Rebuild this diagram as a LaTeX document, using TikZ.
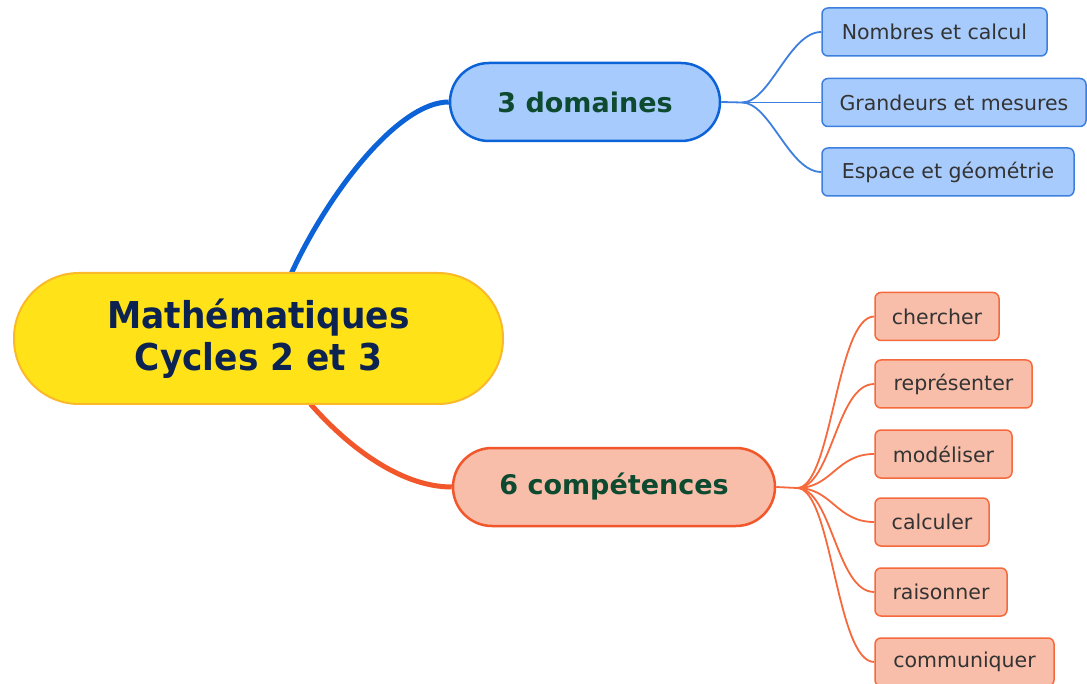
\documentclass[tikz,border=0pt]{standalone}
\usepackage{fontspec}
\setmainfont{DejaVu Sans}
\newfontfamily\titlefont[FakeStretch=0.93]{DejaVu Sans}
\usetikzlibrary{backgrounds}
\definecolor{yelfill}{HTML}{FFE318}
\definecolor{yeldraw}{HTML}{FBB92A}
\definecolor{navy}{HTML}{0C2250}
\definecolor{bluefill}{HTML}{A8CBFD}
\definecolor{bluemain}{HTML}{0C63D8}
\definecolor{blueleaf}{HTML}{3C7FDF}
\definecolor{orfill}{HTML}{F8BEAA}
\definecolor{ormain}{HTML}{F1572A}
\definecolor{orleaf}{HTML}{F6693C}
\definecolor{dkgreen}{HTML}{0D4A30}
\definecolor{leaftext}{HTML}{333333}
\tikzset{
  centralbox/.style={draw=yeldraw, fill=yelfill, line width=2pt, rounded corners=65pt,
    minimum width=489pt, minimum height=131pt, align=center, text=navy,
    font=\titlefont\fontsize{37}{42}\selectfont\bfseries, inner sep=0pt},
  mainbox/.style={line width=2.5pt, rounded corners=39pt, minimum height=78pt,
    text=dkgreen, font=\fontsize{27}{30}\selectfont\bfseries, inner sep=0pt},
  leafbox/.style={line width=1.5pt, rounded corners=6pt, minimum height=48pt,
    text=leaftext, font=\fontsize{20.5}{24}\selectfont, inner sep=0pt},
  blueleafbox/.style={leafbox, draw=blueleaf, fill=bluefill},
  orleafbox/.style={leafbox, draw=orleaf, fill=orfill},
  bluethin/.style={draw=blueleaf, line width=1.8pt},
  orthin/.style={draw=orleaf, line width=1.8pt},
}
\begin{document}
\begin{tikzpicture}[x=1pt,y=-1pt]
\useasboundingbox (0,0) rectangle (1087,684);
\node[centralbox] (central) at (258.5,338.5) {Mathématiques\\Cycles 2 et 3};
\node[mainbox, draw=bluemain, fill=bluefill, minimum width=270pt] (dom) at (585,102) {3 domaines};
\node[mainbox, draw=ormain, fill=orfill, minimum width=322pt] (comp) at (614,487) {6 compétences};

\node[blueleafbox, minimum width=225pt] (n1) at (934.5,32) {Nombres et calcul};
\node[blueleafbox, minimum width=264pt] (n2) at (954,102.5) {Grandeurs et mesures};
\node[blueleafbox, minimum width=252pt] (n3) at (948,172) {Espace et géométrie};

\node[orleafbox, minimum width=124pt] (c1) at (937,316.5) {chercher};
\node[orleafbox, minimum width=157pt] (c2) at (953.5,384) {représenter};
\node[orleafbox, minimum width=137pt] (c3) at (943.5,454) {modéliser};
\node[orleafbox, minimum width=114pt] (c4) at (932,522) {calculer};
\node[orleafbox, minimum width=132pt] (c5) at (941,592) {raisonner};
\node[orleafbox, minimum width=179pt] (c6) at (964.5,662) {communiquer};

\coordinate (bfork) at (742,102.5);
\coordinate (ofork) at (797,488);

\begin{scope}[on background layer]
\draw[draw=bluemain, line width=5pt] ([xshift=33pt,yshift=-1pt]central.north) .. controls +(38,-82) and +(-50,0) .. (dom.west);
\draw[draw=ormain, line width=5pt] ([xshift=52pt,yshift=1pt]central.south) .. controls +(35,40) and +(-53,0) .. (comp.west);

\draw[bluethin] (dom.east) -- (bfork);
\draw[bluethin] (bfork) -- (n2.west);
\foreach \n in {n1,n3}
  \draw[bluethin] (bfork) .. controls +(28,0) and +(-32,0) .. (\n.west);

\draw[orthin] (comp.east) -- (ofork);
\foreach \n in {c1,c2,c3,c4,c5,c6}
  \draw[orthin] (ofork) .. controls +(35,0) and +(-38,0) .. (\n.west);
\end{scope}
\end{tikzpicture}
\end{document}
